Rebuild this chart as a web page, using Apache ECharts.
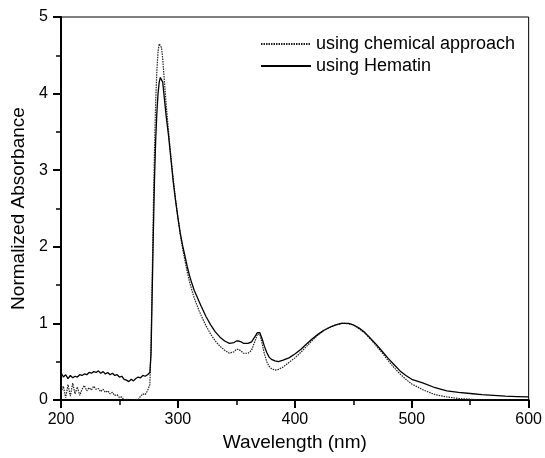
<!DOCTYPE html>
<html><head><meta charset="utf-8">
<script src="https://cdn.jsdelivr.net/npm/echarts@6/dist/echarts.min.js"></script>
<style>html,body{margin:0;padding:0;background:#fff}#c{width:545px;height:458px}</style>
</head><body><div id="c"></div>
<script>
const wavelengths = [200,202,204,206,208,210,212,214,216,218,220,222,224,226,228,230,232,234,236,238,240,242,244,246,248,250,252,254,256,258,260,262,264,266,268,270,272,274,276,
277,278,279,280,281,282,283,284,285,286,287,288,289,290,292,294,296,298,300,302,304,306,308,310,312,314,316,318,320,324,328,332,336,340,344,348,350,352,354,356,360,363,366,368,369,370,372,374,376,378,380,383,386,390,395,400,405,410,415,420,425,430,435,440,443,446,450,455,460,465,470,475,480,485,490,495,500,510,520,530,540,550,560,570,580,590,600];

const hematin = [0.36,0.30,0.33,0.28,0.32,0.29,0.31,0.30,0.33,0.32,0.34,0.33,0.36,0.35,0.37,0.36,0.38,0.35,0.37,0.34,0.36,0.33,0.35,0.32,0.33,0.30,0.31,0.27,0.26,0.24,0.27,0.25,0.28,0.30,0.29,0.32,0.31,0.33,0.36,
0.6,1.4,2.2,2.9,3.4,3.75,4.0,4.15,4.21,4.22,4.15,4.0,3.85,3.7,3.45,3.15,2.85,2.6,2.38,2.18,2.02,1.88,1.74,1.62,1.52,1.43,1.36,1.29,1.22,1.09,0.98,0.89,0.82,0.77,0.74,0.75,0.77,0.77,0.76,0.74,0.74,0.76,0.83,0.88,0.89,0.88,0.80,0.70,0.62,0.56,0.53,0.51,0.50,0.52,0.55,0.60,0.66,0.73,0.80,0.86,0.91,0.95,0.98,1.0,1.0,1.0,0.98,0.94,0.88,0.80,0.72,0.63,0.54,0.46,0.38,0.32,0.27,0.22,0.16,0.12,0.10,0.085,0.07,0.06,0.05,0.045,0.04];

const chemical = [0.10,0.18,0.03,0.20,0.05,0.22,0.08,0.17,0.06,0.14,0.19,0.12,0.16,0.13,0.18,0.14,0.15,0.11,0.14,0.10,0.12,0.08,0.10,0.06,0.07,0.03,0.04,0.00,0.01,0.00,0.00,0.00,0.01,0.00,0.05,0.08,0.07,0.12,0.20,
0.7,1.6,2.5,3.3,3.9,4.3,4.55,4.65,4.67,4.6,4.45,4.25,4.05,3.85,3.5,3.18,2.88,2.62,2.38,2.16,1.98,1.82,1.67,1.54,1.43,1.33,1.25,1.17,1.10,0.97,0.86,0.77,0.70,0.65,0.61,0.63,0.66,0.66,0.64,0.61,0.61,0.65,0.77,0.86,0.88,0.86,0.74,0.60,0.50,0.44,0.41,0.39,0.40,0.43,0.49,0.55,0.62,0.70,0.78,0.85,0.91,0.95,0.98,1.0,1.0,0.995,0.98,0.93,0.87,0.79,0.70,0.61,0.51,0.42,0.34,0.27,0.21,0.13,0.07,0.04,0.02,0.01,0.0,0.0,0.0,0.0,0.0];

const seriesNames = ['using chemical approach','using Hematin'];

const pairs = ys => wavelengths.map((w,i)=>[w, ys[i]]);
const font = 'Liberation Sans, Arial, sans-serif';

const chart = echarts.init(document.getElementById('c'), null, {renderer:'canvas'});
chart.setOption({
  animation:false,
  backgroundColor:'#fff',
  grid:{left:61, right:12, top:17, bottom:58, show:true, borderColor:'#000', borderWidth:1, backgroundColor:'transparent'},
  legend:{
    orient:'vertical', left:255, top:30, itemWidth:50, itemHeight:10, itemGap:4,
    itemStyle:{opacity:0},
    textStyle:{fontFamily:font, fontSize:18, color:'#000'},
    data:seriesNames
  },
  xAxis:{
    type:'value', min:200, max:600, interval:100,
    name:'Wavelength (nm)', nameLocation:'middle', nameGap:30,
    nameTextStyle:{fontFamily:font, fontSize:19, color:'#000'},
    axisLine:{show:true, onZero:false, lineStyle:{color:'#000', width:2}},
    axisTick:{show:true, inside:false, length:8, lineStyle:{color:'#000', width:2}},
    minorTick:{show:true, splitNumber:2, length:5, lineStyle:{color:'#000', width:1.5}},
    axisLabel:{fontFamily:font, fontSize:16, color:'#000', margin:12},
    splitLine:{show:false}
  },
  yAxis:{
    type:'value', min:0, max:5, interval:1,
    name:'Normalized Absorbance', nameLocation:'middle', nameGap:31,
    nameTextStyle:{fontFamily:font, fontSize:19, color:'#000'},
    axisLine:{show:true, onZero:false, lineStyle:{color:'#000', width:2}},
    axisTick:{show:true, inside:false, length:8, lineStyle:{color:'#000', width:2}},
    minorTick:{show:true, splitNumber:2, length:5, lineStyle:{color:'#000', width:1.5}},
    axisLabel:{fontFamily:font, fontSize:16, color:'#000', margin:13},
    splitLine:{show:false}
  },
  series:[
    {name:seriesNames[0], type:'line', data:pairs(chemical), symbol:'none', smooth:false,
     lineStyle:{color:'#222', width:1.2, type:[1.5,1]}, itemStyle:{color:'#222'}},
    {name:seriesNames[1], type:'line', data:pairs(hematin), symbol:'none', smooth:false,
     lineStyle:{color:'#000', width:1.3, type:'solid'}, itemStyle:{color:'#000'}}
  ]
});
</script></body></html>
